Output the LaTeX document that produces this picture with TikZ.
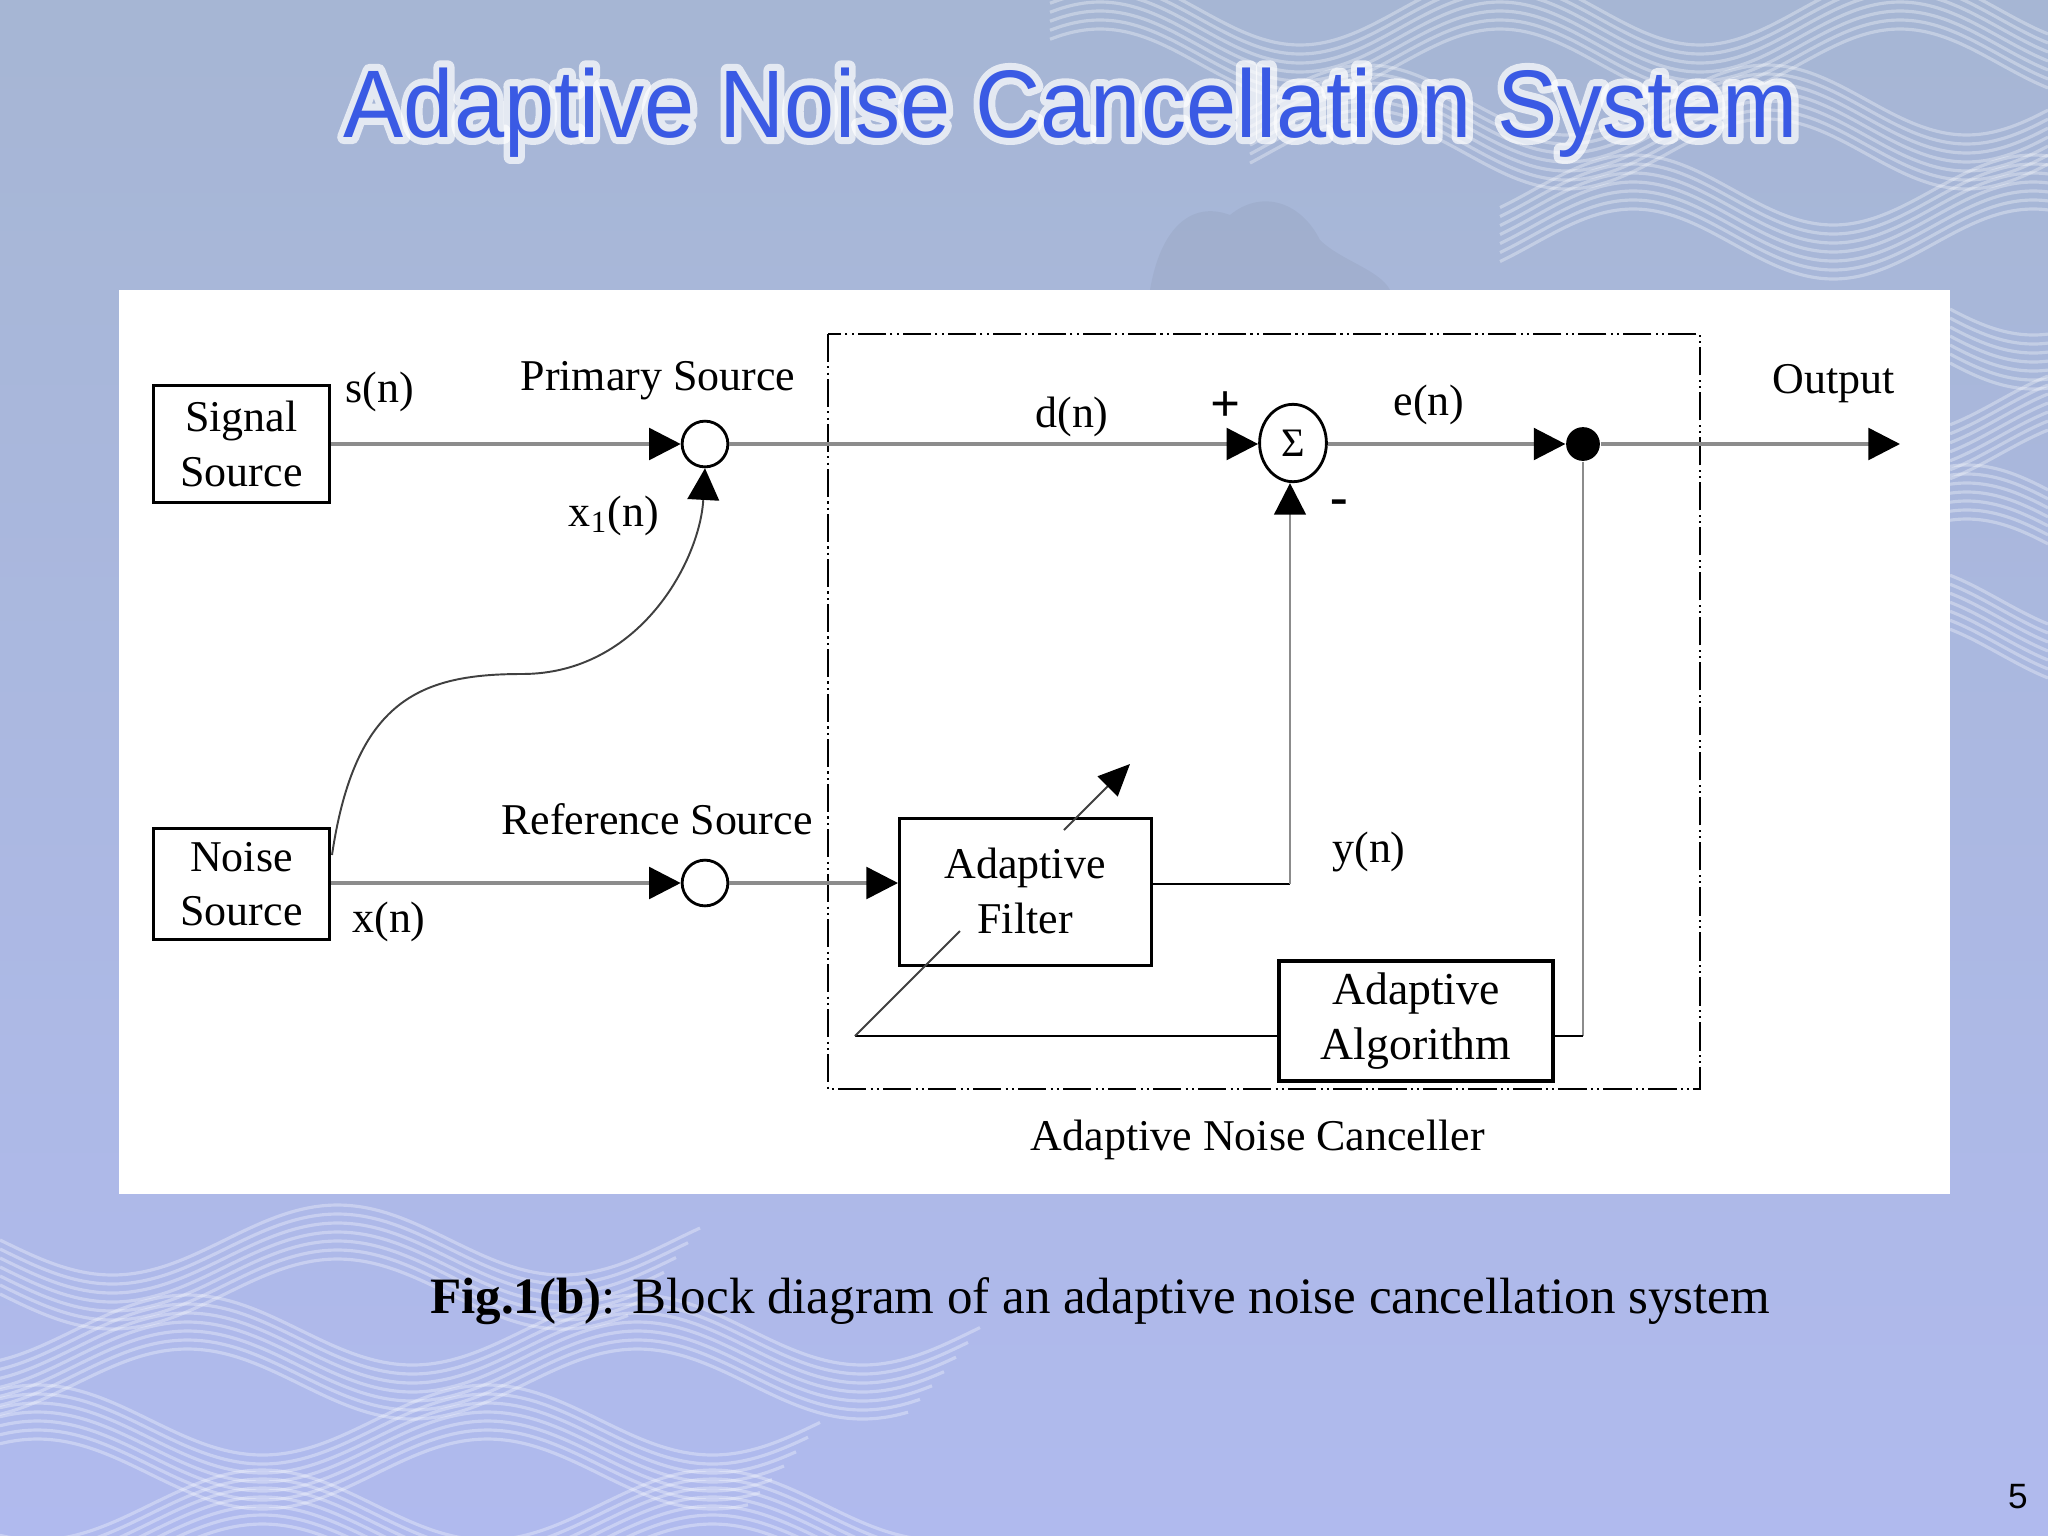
\documentclass[tikz,border=0pt]{standalone}
\usepackage{fontspec}
\setmainfont{Liberation Serif}
\newfontfamily\titlefont{Liberation Sans}
\usetikzlibrary{arrows.meta,shapes.geometric}
\definecolor{bgtop}{RGB}{166,182,212}
\definecolor{bgmid}{RGB}{194,206,242}
\definecolor{bgbot}{RGB}{176,186,238}
\definecolor{titleblue}{RGB}{58,90,228}
\definecolor{sigline}{RGB}{140,140,140}
\newcommand{\glowon}{\special{pdf:literal direct 1 Tr 4 w 1 j 1 1 1 RG}}
\newcommand{\glowoff}{\special{pdf:literal direct 0 Tr}}
\tikzset{
  lbl/.style={font=\fontsize{12.5}{15.5}\selectfont, inner sep=0pt},
  blk/.style={draw=black, line width=0.8pt, align=center, inner sep=0pt,
              font=\fontsize{12.5}{15.5}\selectfont},
  junc/.style={circle, draw=black, line width=0.8pt, minimum size=13pt, inner sep=0pt},
  sig/.style={draw=sigline, line width=1pt},
  thin/.style={draw=black!75, line width=0.55pt},
  bk/.style={draw=black, line width=0.8pt},
  tip/.style={-{Triangle[length=9pt,width=9pt,color=black]}},
  wave/.style={draw=white, opacity=0.32, line width=0.9pt}
}
\begin{document}
\begin{tikzpicture}[x=0.01cm,y=-0.01cm]
\useasboundingbox (0,0) rectangle (2048,1536);
% background
\shade[top color=bgtop, middle color=bgmid, bottom color=bgbot] (0,0) rectangle (2048,1536);
\fill[black!40!bgtop, opacity=0.10] (1150,290) .. controls (1160,230) and (1190,200) .. (1230,215)
  .. controls (1260,190) and (1300,200) .. (1320,240) .. controls (1340,260) and (1380,270) .. (1390,290) -- cycle;
\foreach \yy/\ph/\xs in {10/0/1050,100/120/1250,190/240/1500} {
  \foreach \i in {0,...,6} {
    \draw[wave] plot[domain=\xs:2048, samples=90, smooth]
      (\x, {\yy + 35*sin((\x)*0.9+\ph) + \i*9});
  }
}
\foreach \yy/\ph in {300/60,400/180,500/300,600/0} {
  \foreach \i in {0,...,6} {
    \draw[wave] plot[domain=1950:2048, samples=20, smooth]
      (\x, {\yy + 35*sin((\x)*0.9+\ph) + \i*9});
  }
}
\foreach \yy/\ph/\xe in {1240/0/700,1330/120/980,1420/240/820,1505/60/960} {
  \foreach \i in {0,...,6} {
    \draw[wave] plot[domain=0:\xe-\i*12, samples=90, smooth]
      (\x, {\yy + 35*sin((\x)*0.8+\ph) + \i*9});
  }
}
% white panel
\fill[white] (119,290) rectangle (1950,1194);
% title with white halo
\node (glow) [anchor=base, text=white, opacity=0.7, xscale=0.94, inner sep=0pt,
      font=\titlefont\fontsize{27.3}{30}\selectfont] at (1071,137)
      {\glowon Adaptive Noise Cancellation System\glowoff};
\node (title) [anchor=base, text=titleblue, xscale=0.94, inner sep=0pt,
      font=\titlefont\fontsize{27.3}{30}\selectfont] at (1071,137)
      {Adaptive Noise Cancellation System};
% dashed canceller box
\draw[line width=0.8pt, dash pattern=on 8pt off 1.2pt on 0.6pt off 1.2pt on 0.6pt off 1.2pt]
  (828,334) rectangle (1700,1089);
% blocks
\node (sigsrc) [blk, minimum width=50.2pt, minimum height=33.4pt] at (241.5,444) {Signal\\Source};
\node (noisrc) [blk, minimum width=50.2pt, minimum height=31.7pt] at (241.5,884) {Noise\\Source};
\node (filt) [blk, minimum width=71.7pt, minimum height=42pt] at (1025.5,892) {};
\node (filttxt) [lbl, align=center] at (1025,891) {Adaptive\\Filter};
\node (alg) [blk, line width=1.1pt, minimum width=77.7pt, minimum height=34pt,
      font=\fontsize{13}{15.5}\selectfont] at (1416,1021) {Adaptive\\Algorithm};
% junctions
\node (pc) [junc] at (705,444) {};
\node (rc) [junc] at (705,883) {};
\node (sum) [ellipse, draw=black, line width=0.8pt, minimum width=19pt, minimum height=22pt,
      inner sep=0pt, font=\fontsize{11.5}{12}\selectfont] at (1293,443) {Σ};
\node (dot) [circle, fill=black, minimum size=9.6pt, inner sep=0pt] at (1583,444) {};
\coordinate (out) at (1900,444);
\coordinate (cs) at (332,855);
\coordinate (ycorner) at (1290,884);
\coordinate (corner) at (855,1036);
\coordinate (d1) at (960,931);
\coordinate (d2) at (1064,830);
\coordinate (dtip) at (1130,764);
% connectors
\draw[sig, tip] (sigsrc.east |- pc) -- (pc.west);
\draw[sig, tip] (pc.east) -- (sum.west |- pc);
\draw[sig, tip] (sum.east |- pc) -- (dot.west);
\draw[sig, tip] (dot.east) -- (out);
\draw[sig, tip] (noisrc.east |- rc) -- (rc.west);
\draw[sig, tip] (rc.east) -- (filt.west |- rc);
\draw[thin, tip] (cs) .. controls (355,700) and (420,674) .. (522,674)
   .. controls (640,674) and (700,560) .. (pc.south);
\draw[bk] (filt.east |- ycorner) -- (ycorner);
\draw[sig, line width=0.8pt, tip] (ycorner) -- (ycorner |- sum.south);
\draw[sig, line width=0.8pt] (dot.south) -- (dot |- corner);
\draw[bk] (dot |- corner) -- (alg.east |- corner);
\draw[bk] (alg.west |- corner) -- (corner);
\draw[thin] (corner) -- (d1);
\draw[thin, -{Triangle[length=9pt,width=8pt,color=black]}] (d2) -- (dtip);
% labels
\node (lsn) [lbl] at (380,392) {s(n)};
\node (lps) [lbl] at (658,381) {Primary Source};
\node (lx1) [lbl] at (614,516) {x\textsubscript{1}(n)};
\node (ldn) [lbl] at (1072,417) {d(n)};
\node (lplus) [lbl, font=\bfseries\fontsize{15}{16}\selectfont] at (1226,407) {+};
\node (lminus) [lbl, font=\bfseries\fontsize{15}{16}\selectfont] at (1339,507) {-};
\node (len) [lbl] at (1429,405) {e(n)};
\node (lout) [lbl] at (1834,384) {Output};
\node (lrs) [lbl] at (657,819) {Reference Source};
\node (lxn) [lbl] at (389,922) {x(n)};
\node (lyn) [lbl] at (1369,852) {y(n)};
\node (lanc) [lbl] at (1258,1140) {Adaptive Noise Canceller};
% caption
\node (cap) [anchor=base, inner sep=0pt, font=\fontsize{14.5}{18}\selectfont] at (1100,1313)
  {\textbf{Fig.1(b)}: Block diagram of an adaptive noise cancellation system};
\node (pg) [anchor=base, inner sep=0pt, font=\titlefont\fontsize{10}{12}\selectfont] at (2018,1508) {5};
\end{tikzpicture}
\end{document}
